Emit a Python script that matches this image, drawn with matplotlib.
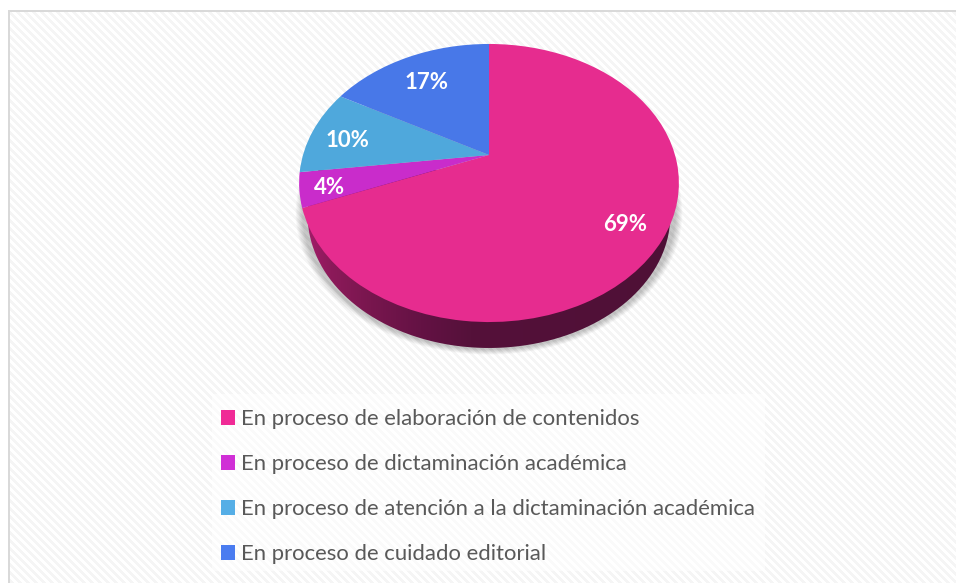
import numpy as np
import matplotlib
matplotlib.use("Agg")
import matplotlib.pyplot as plt
from matplotlib.patches import Patch, PathPatch, Rectangle
from matplotlib.path import Path
from matplotlib.transforms import Transform

plt.rcParams['font.family'] = ['Lato', 'DejaVu Sans']

categories = ["En proceso de elaboración de contenidos",
              "En proceso de dictaminación académica",
              "En proceso de atención a la dictaminación académica",
              "En proceso de cuidado editorial"]
values = [69, 4, 10, 17]
pie_colors = ["#E62C8F", "#C92CCB", "#4FA8DC", "#4878E8"]
legend_colors = ["#F02A96", "#D02FD6", "#55AEE6", "#4A7CF0"]
label_nudge = [(1, 4), (-9, 5), (0, 5), (4, 8)]

W, H = 956, 583
CX, CY = 489, 155     # apex of the pie, in pixels
TILT = 0.2014
SX, SY = 186.0, 133.4


class Tilted(Transform):
    # unit circle -> tilted pie in pixel coordinates
    input_dims = 2
    output_dims = 2

    def __init__(self, dy=0, scale=1.0):
        super().__init__()
        self.dy = dy
        self.scale = scale

    def transform_non_affine(self, xy):
        xy = np.asarray(xy, dtype=float)
        w = 1 + TILT * xy[:, 1]
        return np.column_stack([CX + self.scale * SX * xy[:, 0] / w,
                                CY + self.dy - self.scale * SY * xy[:, 1] / w
                                + (1 - self.scale) * 28])


fig = plt.figure(figsize=(W / 100, H / 100), dpi=100)
ax = fig.add_axes([0, 0, 1, 1])

wedges, _ = ax.pie(values, colors=pie_colors, startangle=90, counterclock=False,
                   radius=1, frame=False)
ax.set_aspect("auto")
ax.set_xlim(0, W)
ax.set_ylim(H, 0)
ax.axis("off")

# striped sheet behind everything
yy, xx = np.mgrid[0:H, 0:W]
stripes = np.where((xx - yy) % 8 < 4, 1.0, 0.96)
stripes[yy < 10] = 1.0
stripes[xx < 8] = 1.0
ax.imshow(stripes, cmap="gray", vmin=0, vmax=1, extent=(0, W, H, 0),
          aspect="auto", interpolation="nearest", zorder=0)
ax.set_xlim(0, W)
ax.set_ylim(H, 0)
ax.add_patch(Rectangle((8, 10), W, 2, color="#D9D9D9", lw=0, zorder=1))
ax.add_patch(Rectangle((8, 10), 2, H, color="#D9D9D9", lw=0, zorder=1))

for w in wedges:
    w.set_transform(Tilted() + ax.transData)
    w.set_zorder(5)
    w.set_linewidth(0)

# outline of the whole pie, used for the side wall and the shadow
t = np.linspace(0, 2 * np.pi, 361)
circle = np.column_stack([np.cos(t), np.sin(t)])

# soft shadow
for i in range(14):
    ring = Tilted(dy=30, scale=0.98 + 0.0028 * (14 - i)).transform_non_affine(circle)
    ax.fill(ring[:, 0], ring[:, 1], color="black", alpha=0.017, lw=0, zorder=2)

# side wall, horizontal gradient clipped to the shrunken, shifted outline
side = Tilted(dy=32.2, scale=0.955).transform_non_affine(circle)
side_clip = PathPatch(Path(side), transform=ax.transData, fc="none", lw=0)
ax.add_patch(side_clip)
ramp_x = np.array([299, 330, 370, 420, 470, 679])
ramp_r = np.array([170, 140, 120, 100, 85, 78])
ramp_g = np.array([28, 26, 22, 18, 17, 16])
ramp_b = np.array([110, 90, 78, 68, 58, 54])
cols = np.arange(299, 680)
grad = np.stack([np.interp(cols, ramp_x, ramp_r),
                 np.interp(cols, ramp_x, ramp_g),
                 np.interp(cols, ramp_x, ramp_b)], axis=-1)[None, :, :] / 255
im = ax.imshow(grad, extent=(299, 680, 360, 170), aspect="auto", zorder=3)
im.set_clip_path(side_clip)
ax.set_xlim(0, W)
ax.set_ylim(H, 0)

# percentage labels
tilt = Tilted()
for w, v, (nx, ny) in zip(wedges, values, label_nudge):
    mid = np.deg2rad((w.theta1 + w.theta2) / 2)
    p = tilt.transform_non_affine(np.array([[0.8 * np.cos(mid), 0.8 * np.sin(mid)]]))[0]
    ax.text(p[0] + nx, p[1] + ny, f"{v}%", color="white", fontsize=16, fontweight="bold",
            ha="center", va="center", zorder=6)

# legend box drawn apart so its size can follow the picture
ax.add_patch(Rectangle((212, 394), 553, 177, fc="white", alpha=0.6, lw=0, zorder=6))
handles = [Patch(color=c, lw=0) for c in legend_colors]
leg = ax.legend(handles, categories, loc="upper left", bbox_to_anchor=(207.5, 395.5),
                bbox_transform=ax.transData, borderaxespad=0, fontsize=15.9,
                labelcolor="#595959", handlelength=0.63, handleheight=0.63,
                handletextpad=0.27, labelspacing=1.13, borderpad=0.62,
                frameon=False)
leg.set_zorder(7)

fig.savefig("out.png", dpi=100)
